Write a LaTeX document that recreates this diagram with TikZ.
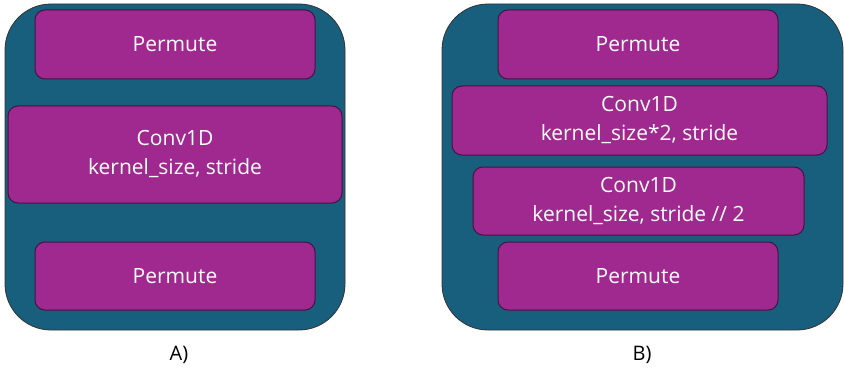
\documentclass[tikz,border=0pt]{standalone}
\usepackage{fontspec}
\setmainfont{Open Sans}
\begin{document}
\begin{tikzpicture}[x=1pt,y=-1pt,
  panel/.style={draw=black!80, line width=0.8pt, fill=panelteal, rounded corners=46pt},
  layer/.style={draw=layerrim, line width=1pt, fill=layerpurple, rounded corners=10pt,
    text=white, align=center, inner sep=0pt, font=\fontsize{21}{29}\selectfont},
  caption/.style={text=black, font=\fontsize{20}{24}\selectfont}]
\definecolor{panelteal}{RGB}{24,94,125}
\definecolor{layerpurple}{RGB}{160,41,143}
\definecolor{layerrim}{RGB}{72,18,64}
\useasboundingbox (0,0) rectangle (844,369);

% panel A
\draw[panel] (5,4) rectangle (345,330);
\node[layer, minimum width=280pt, minimum height=69pt] (a1) at (175,44.5) {Permute};
\node[layer, minimum width=334pt, minimum height=97pt] (a2) at (175,154.5) {Conv1D\\kernel\_size, stride};
\node[layer, minimum width=280pt, minimum height=68pt] (a3) at (175,276) {Permute};
\node[caption] (la) at (179,355) {A)};

% panel B
\draw[panel] (442,4) rectangle (843,330);
\node[layer, minimum width=280pt, minimum height=69pt] (b1) at (638,44.5) {Permute};
\node[layer, minimum width=375pt, minimum height=69pt] (b2) at (639.5,120.5) {Conv1D\\kernel\_size*2, stride};
\node[layer, minimum width=331pt, minimum height=68pt] (b3) at (638.5,201) {Conv1D\\kernel\_size, stride // 2};
\node[layer, minimum width=280pt, minimum height=68pt] (b4) at (638,276) {Permute};
\node[caption] (lb) at (642,355) {B)};
\end{tikzpicture}
\end{document}
